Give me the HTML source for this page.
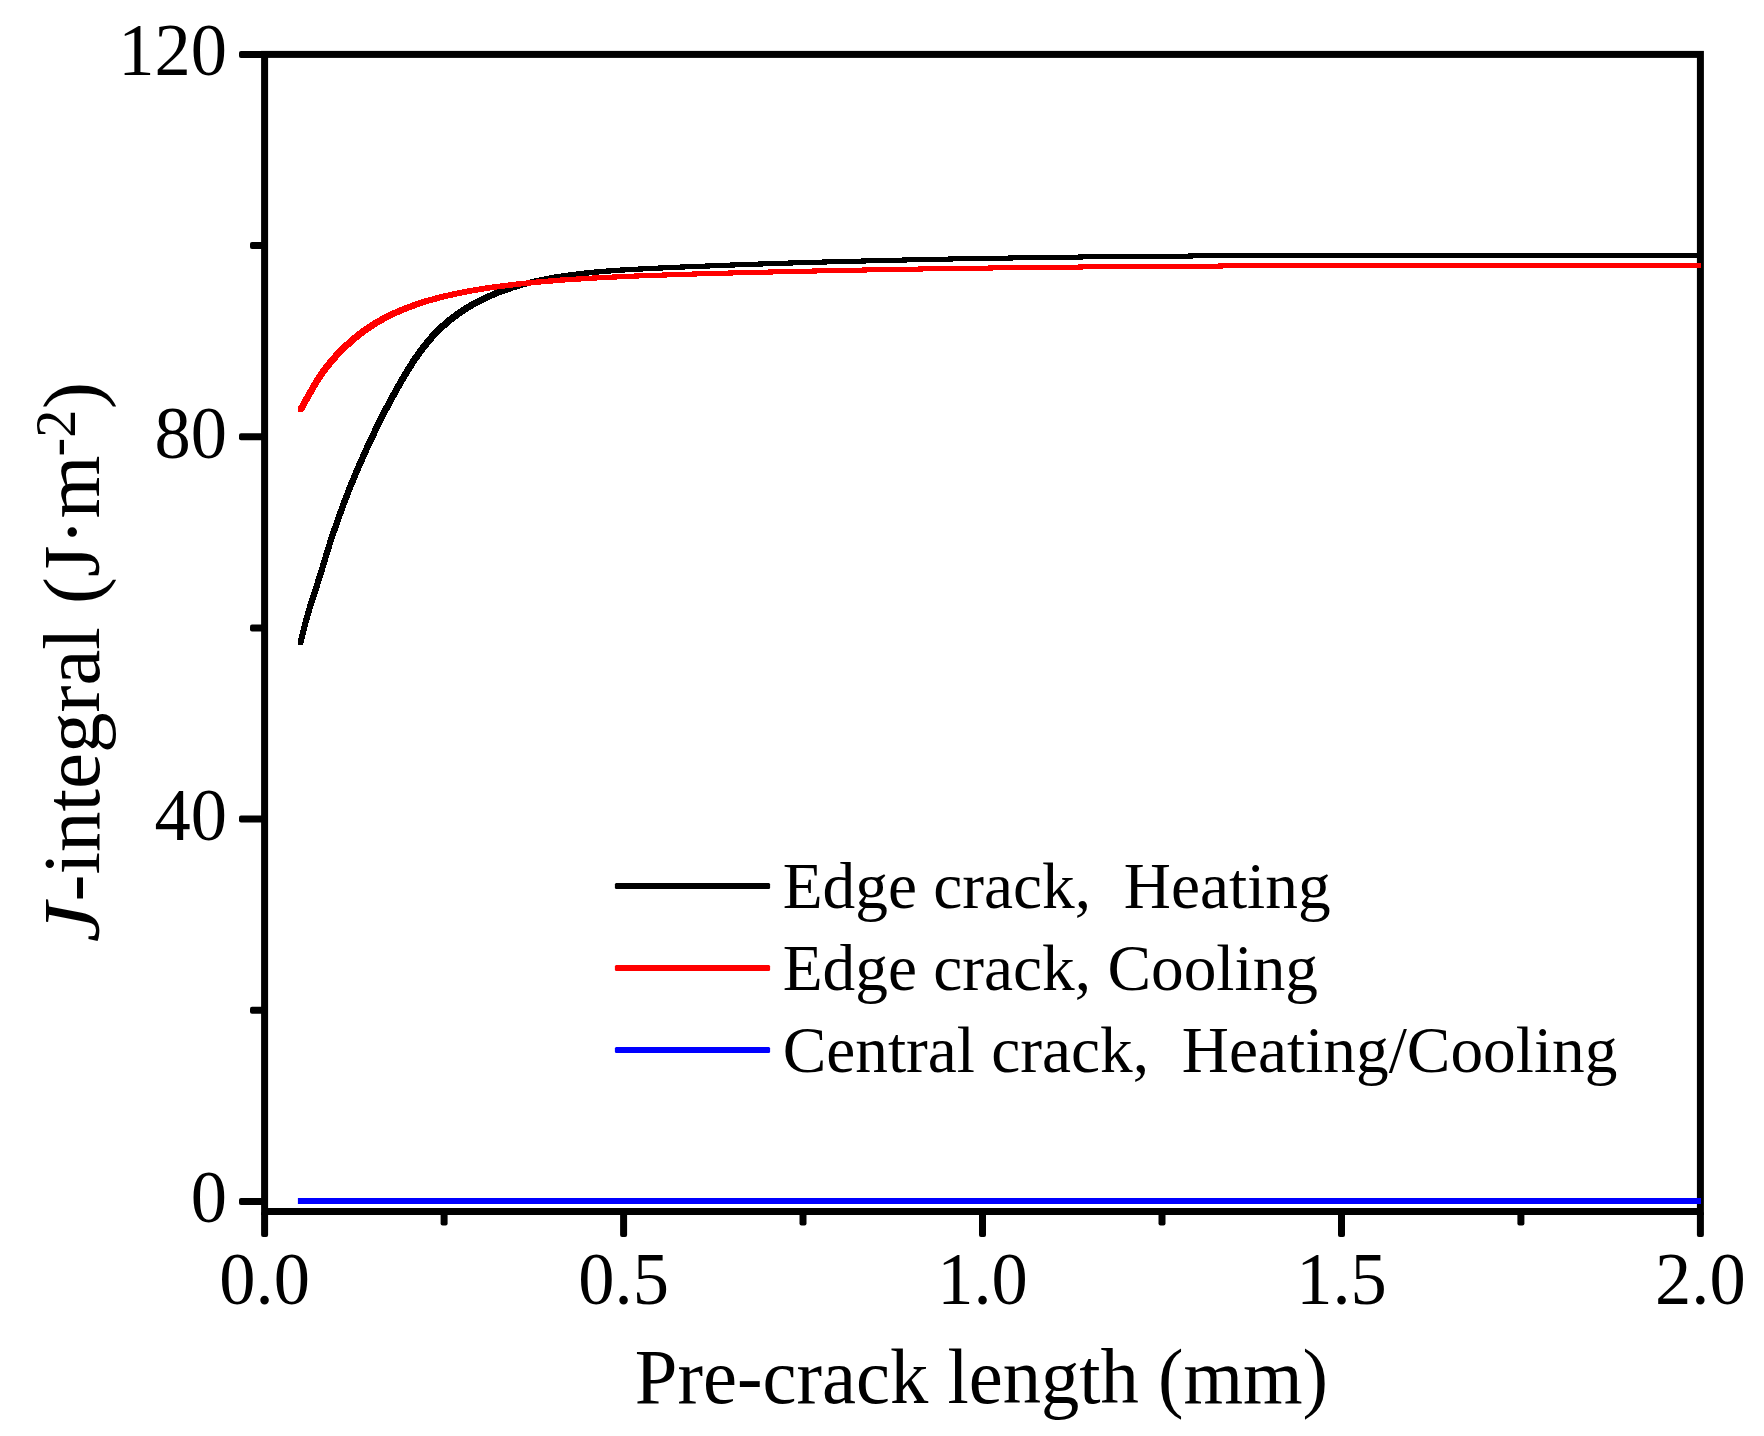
<!DOCTYPE html>
<html lang="en"><head><meta charset="utf-8"><title>J-integral vs pre-crack length</title>
<style>html,body{margin:0;padding:0;background:#fff}body{width:1764px;height:1436px;overflow:hidden}svg{display:block}text{font-family:"Liberation Serif","Times New Roman",Times,serif;fill:#000;white-space:pre;font-kerning:none;font-variant-ligatures:none}</style></head><body>
<svg width="1764" height="1436" viewBox="0 0 1764 1436">
<rect x="0" y="0" width="1764" height="1436" fill="#fff"/>
<g fill="#000">
<rect x="239" y="1198.0" width="25.6" height="7" rx="2"/>
<rect x="239" y="815.6" width="25.6" height="7" rx="2"/>
<rect x="239" y="433.3" width="25.6" height="7" rx="2"/>
<rect x="239" y="50.9" width="25.6" height="7" rx="2"/>
<rect x="250" y="1006.8" width="14.6" height="7" rx="2"/>
<rect x="250" y="624.5" width="14.6" height="7" rx="2"/>
<rect x="250" y="242.1" width="14.6" height="7" rx="2"/>
<rect x="261.1" y="1211.5" width="7" height="25.5" rx="2"/>
<rect x="620.1" y="1211.5" width="7" height="25.5" rx="2"/>
<rect x="979.0" y="1211.5" width="7" height="25.5" rx="2"/>
<rect x="1338.0" y="1211.5" width="7" height="25.5" rx="2"/>
<rect x="1696.9" y="1211.5" width="7" height="25.5" rx="2"/>
<rect x="440.6" y="1211.5" width="7" height="14.0" rx="2"/>
<rect x="799.5" y="1211.5" width="7" height="14.0" rx="2"/>
<rect x="1158.5" y="1211.5" width="7" height="14.0" rx="2"/>
<rect x="1517.4" y="1211.5" width="7" height="14.0" rx="2"/>
</g>
<rect x="264.6" y="54.4" width="1435.8" height="1157.1" fill="none" stroke="#000" stroke-width="7" stroke-linejoin="miter"/>
<path d="M297.9 644.9 297.9 639.9 299.5 633.9 301.5 625.9 303.5 618.2 305.5 611.2 307.5 604.5 309.5 598.2 311.5 591.9 313.5 585.8 315.5 579.5 317.5 573.1 319.5 566.6 321.5 559.9 323.5 553.3 325.5 546.7 327.5 540.4 329.5 534.3 331.5 528.4 333.5 522.7 335.5 517.0 337.5 511.5 339.5 505.9 341.5 500.5 343.5 495.2 345.5 490.0 347.5 485.0 349.5 480.0 351.5 475.2 353.5 470.4 355.5 465.7 357.5 461.1 359.5 456.6 361.5 452.1 363.5 447.7 365.5 443.3 367.5 439.0 369.5 434.7 371.5 430.6 373.5 426.4 375.5 422.3 377.5 418.3 379.5 414.3 381.5 410.4 383.5 406.5 385.5 402.7 387.5 399.0 389.5 395.2 391.5 391.6 393.5 387.9 395.5 384.4 397.5 380.8 399.5 377.4 401.5 374.0 403.5 370.6 405.5 367.3 407.5 364.1 409.5 361.0 411.5 358.0 413.5 355.0 415.5 352.2 417.5 349.4 419.5 346.7 421.5 344.1 423.5 341.6 425.5 339.1 427.5 336.8 429.5 334.5 431.5 332.4 433.5 330.3 435.5 328.2 437.5 326.3 439.5 324.4 441.5 322.6 443.5 320.8 445.5 319.1 447.5 317.4 449.5 315.9 451.5 314.3 453.5 312.8 455.5 311.4 457.5 310.0 459.5 308.6 461.5 307.3 463.5 306.0 465.5 304.8 467.5 303.6 469.5 302.4 471.5 301.3 473.5 300.2 475.5 299.2 477.5 298.1 479.5 297.1 481.5 296.2 483.5 295.2 485.5 294.3 487.5 293.4 489.5 292.6 491.5 291.7 493.5 290.9 495.5 290.1 497.5 289.4 499.5 288.6 501.5 287.9 503.5 287.2 505.5 286.5 507.5 285.8 509.5 285.2 511.5 284.5 513.5 283.9 515.5 283.3 517.5 282.7 519.5 282.2 521.5 281.6 523.5 281.1 525.5 280.6 527.5 280.1 529.5 279.6 531.5 279.1 533.5 278.6 535.5 278.2 537.5 277.8 539.5 277.3 541.5 276.9 543.5 276.5 545.5 276.1 547.5 275.7 549.5 275.4 551.5 275.0 553.5 274.7 555.5 274.3 557.5 274.0 559.5 273.7 561.5 273.4 563.5 273.1 565.5 272.8 567.5 272.5 569.5 272.3 571.5 272.0 573.5 271.7 575.5 271.5 577.5 271.3 579.5 271.0 581.5 270.8 583.5 270.6 585.5 270.4 587.5 270.2 589.5 270.0 591.5 269.8 593.5 269.6 595.5 269.4 597.5 269.2 599.5 269.1 601.5 268.9 603.5 268.7 605.5 268.6 607.5 268.4 609.5 268.3 611.5 268.1 613.5 268.0 615.5 267.8 617.5 267.7 619.5 267.6 621.5 267.4 623.5 267.3 625.5 267.2 627.5 267.1 629.5 266.9 631.5 266.8 633.5 266.7 635.5 266.6 637.5 266.5 639.5 266.4 641.5 266.3 643.5 266.2 645.5 266.1 647.5 266.0 649.5 265.9 651.5 265.8 653.5 265.7 655.5 265.6 657.5 265.5 659.5 265.4 661.5 265.3 663.5 265.2 665.5 265.1 667.5 265.0 669.5 265.0 671.5 264.9 673.5 264.8 675.5 264.7 677.5 264.6 679.5 264.5 681.5 264.4 683.5 264.4 685.5 264.3 687.5 264.2 689.5 264.1 691.5 264.0 693.5 263.9 695.5 263.9 697.5 263.8 707.5 263.4 717.5 263.0 727.5 262.6 737.5 262.2 747.5 261.9 757.5 261.5 767.5 261.2 777.5 260.9 787.5 260.5 797.5 260.2 807.5 259.9 817.5 259.6 827.5 259.4 837.5 259.1 847.5 258.8 857.5 258.6 867.5 258.3 877.5 258.1 887.5 257.8 897.5 257.6 907.5 257.4 917.5 257.2 927.5 256.9 937.5 256.7 947.5 256.5 957.5 256.4 967.5 256.2 977.5 256.0 987.5 255.8 997.5 255.7 1007.5 255.5 1017.5 255.3 1027.5 255.2 1037.5 255.1 1047.5 254.9 1057.5 254.8 1067.5 254.7 1077.5 254.5 1087.5 254.4 1097.5 254.3 1107.5 254.2 1117.5 254.1 1127.5 254.0 1137.5 253.9 1147.5 253.8 1157.5 253.7 1167.5 253.6 1177.5 253.5 1187.5 253.5 1197.5 253.4 1207.5 253.3 1217.5 253.3 1227.5 253.2 1237.5 253.1 1247.5 253.1 1257.5 253.0 1267.5 253.0 1277.5 252.9 1287.5 252.9 1297.5 252.9 1307.5 252.8 1317.5 252.8 1327.5 252.8 1337.5 252.7 1347.5 252.7 1357.5 252.7 1367.5 252.7 1377.5 252.6 1387.5 252.6 1397.5 252.6 1407.5 252.6 1417.5 252.6 1427.5 252.6 1437.5 252.6 1447.5 252.6 1457.5 252.6 1467.5 252.6 1477.5 252.6 1487.5 252.6 1497.5 252.6 1507.5 252.6 1517.5 252.6 1527.5 252.6 1537.5 252.6 1547.5 252.6 1557.5 252.6 1567.5 252.6 1577.5 252.6 1587.5 252.6 1597.5 252.6 1607.5 252.6 1617.5 252.6 1627.5 252.6 1637.5 252.6 1647.5 252.6 1657.5 252.6 1667.5 252.6 1677.5 252.6 1687.5 252.6 1696.0 252.6 1696.0 252.6 1701.0 252.6 1701.0 257.6 1701.0 257.6 1692.5 257.6 1682.5 257.6 1672.5 257.6 1662.5 257.6 1652.5 257.6 1642.5 257.6 1632.5 257.6 1622.5 257.6 1612.5 257.6 1602.5 257.6 1592.5 257.6 1582.5 257.6 1572.5 257.6 1562.5 257.6 1552.5 257.6 1542.5 257.6 1532.5 257.6 1522.5 257.6 1512.5 257.6 1502.5 257.6 1492.5 257.6 1482.5 257.6 1472.5 257.6 1462.5 257.6 1452.5 257.6 1442.5 257.6 1432.5 257.6 1422.5 257.6 1412.5 257.6 1402.5 257.6 1392.5 257.6 1382.5 257.6 1372.5 257.7 1362.5 257.7 1352.5 257.7 1342.5 257.7 1332.5 257.8 1322.5 257.8 1312.5 257.8 1302.5 257.9 1292.5 257.9 1282.5 257.9 1272.5 258.0 1262.5 258.0 1252.5 258.1 1242.5 258.1 1232.5 258.2 1222.5 258.3 1212.5 258.3 1202.5 258.4 1192.5 258.5 1182.5 258.5 1172.5 258.6 1162.5 258.7 1152.5 258.8 1142.5 258.9 1132.5 259.0 1122.5 259.1 1112.5 259.2 1102.5 259.3 1092.5 259.4 1082.5 259.5 1072.5 259.7 1062.5 259.8 1052.5 259.9 1042.5 260.1 1032.5 260.2 1022.5 260.3 1012.5 260.5 1002.5 260.7 992.5 260.8 982.5 261.0 972.5 261.2 962.5 261.4 952.5 261.5 942.5 261.7 932.5 261.9 922.5 262.2 912.5 262.4 902.5 262.6 892.5 262.8 882.5 263.1 872.5 263.3 862.5 263.6 852.5 263.8 842.5 264.1 832.5 264.4 822.5 264.6 812.5 264.9 802.5 265.2 792.5 265.5 782.5 265.9 772.5 266.2 762.5 266.5 752.5 266.9 742.5 267.2 732.5 267.6 722.5 268.0 712.5 268.4 702.5 268.8 700.5 268.9 698.5 268.9 696.5 269.0 694.5 269.1 692.5 269.2 690.5 269.3 688.5 269.4 686.5 269.4 684.5 269.5 682.5 269.6 680.5 269.7 678.5 269.8 676.5 269.9 674.5 270.0 672.5 270.0 670.5 270.1 668.5 270.2 666.5 270.3 664.5 270.4 662.5 270.5 660.5 270.6 658.5 270.7 656.5 270.8 654.5 270.9 652.5 271.0 650.5 271.1 648.5 271.2 646.5 271.3 644.5 271.4 642.5 271.5 640.5 271.6 638.5 271.7 636.5 271.8 634.5 271.9 632.5 272.1 630.5 272.2 628.5 272.3 626.5 272.4 624.5 272.6 622.5 272.7 620.5 272.8 618.5 273.0 616.5 273.1 614.5 273.3 612.5 273.4 610.5 273.6 608.5 273.7 606.5 273.9 604.5 274.1 602.5 274.2 600.5 274.4 598.5 274.6 596.5 274.8 594.5 275.0 592.5 275.2 590.5 275.4 588.5 275.6 586.5 275.8 584.5 276.0 582.5 276.3 580.5 276.5 578.5 276.7 576.5 277.0 574.5 277.3 572.5 277.5 570.5 277.8 568.5 278.1 566.5 278.4 564.5 278.7 562.5 279.0 560.5 279.3 558.5 279.7 556.5 280.0 554.5 280.4 552.5 280.7 550.5 281.1 548.5 281.5 546.5 281.9 544.5 282.3 542.5 282.8 540.5 283.2 538.5 283.6 536.5 284.1 534.5 284.6 532.5 285.1 530.5 285.6 528.5 286.1 526.5 286.6 524.5 287.2 522.5 287.7 520.5 288.3 518.5 288.9 516.5 289.5 514.5 290.2 512.5 290.8 510.5 291.5 508.5 292.2 506.5 292.9 504.5 293.6 502.5 294.4 500.5 295.1 498.5 295.9 496.5 296.7 494.5 297.6 492.5 298.4 490.5 299.3 488.5 300.2 486.5 301.2 484.5 302.1 482.5 303.1 480.5 304.2 478.5 305.2 476.5 306.3 474.5 307.4 472.5 308.6 470.5 309.8 468.5 311.0 466.5 312.3 464.5 313.6 462.5 315.0 460.5 316.4 458.5 317.8 456.5 319.3 454.5 320.9 452.5 322.4 450.5 324.1 448.5 325.8 446.5 327.6 444.5 329.4 442.5 331.3 440.5 333.2 438.5 335.3 436.5 337.4 434.5 339.5 432.5 341.8 430.5 344.1 428.5 346.6 426.5 349.1 424.5 351.7 422.5 354.4 420.5 357.2 418.5 360.0 416.5 363.0 414.5 366.0 412.5 369.1 410.5 372.3 408.5 375.6 406.5 379.0 404.5 382.4 402.5 385.8 400.5 389.4 398.5 392.9 396.5 396.6 394.5 400.2 392.5 404.0 390.5 407.7 388.5 411.5 386.5 415.4 384.5 419.3 382.5 423.3 380.5 427.3 378.5 431.4 376.5 435.6 374.5 439.7 372.5 444.0 370.5 448.3 368.5 452.7 366.5 457.1 364.5 461.6 362.5 466.1 360.5 470.7 358.5 475.4 356.5 480.2 354.5 485.0 352.5 490.0 350.5 495.0 348.5 500.2 346.5 505.5 344.5 510.9 342.5 516.5 340.5 522.0 338.5 527.7 336.5 533.4 334.5 539.3 332.5 545.4 330.5 551.7 328.5 558.3 326.5 564.9 324.5 571.6 322.5 578.1 320.5 584.5 318.5 590.8 316.5 596.9 314.5 603.2 312.5 609.5 310.5 616.2 308.5 623.2 306.5 630.9 304.5 638.9 302.9 644.9Z" fill="#000" shape-rendering="crispEdges"/>
<path d="M297.9 411.9 297.9 406.9 299.5 404.6 301.5 401.1 303.5 397.5 305.5 393.8 307.5 390.3 309.5 386.8 311.5 383.4 313.5 380.1 315.5 376.9 317.5 373.8 319.5 370.9 321.5 368.1 323.5 365.4 325.5 362.9 327.5 360.4 329.5 358.0 331.5 355.7 333.5 353.5 335.5 351.4 337.5 349.3 339.5 347.3 341.5 345.3 343.5 343.4 345.5 341.6 347.5 339.8 349.5 338.0 351.5 336.3 353.5 334.6 355.5 333.0 357.5 331.5 359.5 330.0 361.5 328.5 363.5 327.1 365.5 325.7 367.5 324.3 369.5 323.0 371.5 321.8 373.5 320.5 375.5 319.3 377.5 318.2 379.5 317.0 381.5 315.9 383.5 314.9 385.5 313.8 387.5 312.8 389.5 311.8 391.5 310.9 393.5 310.0 395.5 309.1 397.5 308.2 399.5 307.4 401.5 306.6 403.5 305.8 405.5 305.0 407.5 304.2 409.5 303.5 411.5 302.8 413.5 302.1 415.5 301.4 417.5 300.7 419.5 300.1 421.5 299.4 423.5 298.8 425.5 298.2 427.5 297.6 429.5 297.1 431.5 296.5 433.5 296.0 435.5 295.4 437.5 294.9 439.5 294.4 441.5 293.9 443.5 293.4 445.5 293.0 447.5 292.5 449.5 292.1 451.5 291.6 453.5 291.2 455.5 290.8 457.5 290.3 459.5 289.9 461.5 289.6 463.5 289.2 465.5 288.8 467.5 288.4 469.5 288.1 471.5 287.7 473.5 287.4 475.5 287.0 477.5 286.7 479.5 286.4 481.5 286.0 483.5 285.7 485.5 285.4 487.5 285.1 489.5 284.8 491.5 284.5 493.5 284.3 495.5 284.0 497.5 283.7 499.5 283.5 501.5 283.2 503.5 282.9 505.5 282.7 507.5 282.5 509.5 282.2 511.5 282.0 513.5 281.8 515.5 281.5 517.5 281.3 519.5 281.1 521.5 280.9 523.5 280.7 525.5 280.5 527.5 280.3 529.5 280.1 531.5 279.9 533.5 279.7 535.5 279.5 537.5 279.3 539.5 279.2 541.5 279.0 543.5 278.8 545.5 278.6 547.5 278.5 549.5 278.3 551.5 278.2 553.5 278.0 555.5 277.9 557.5 277.7 559.5 277.6 561.5 277.4 563.5 277.3 565.5 277.1 567.5 277.0 569.5 276.9 571.5 276.7 573.5 276.6 575.5 276.5 577.5 276.3 579.5 276.2 581.5 276.1 583.5 276.0 585.5 275.9 587.5 275.8 589.5 275.6 591.5 275.5 593.5 275.4 595.5 275.3 597.5 275.2 599.5 275.1 601.5 275.0 603.5 274.9 605.5 274.8 607.5 274.7 609.5 274.6 611.5 274.5 613.5 274.4 615.5 274.3 617.5 274.2 619.5 274.1 621.5 274.0 623.5 274.0 625.5 273.9 627.5 273.8 629.5 273.7 631.5 273.6 633.5 273.5 635.5 273.4 637.5 273.4 639.5 273.3 641.5 273.2 643.5 273.1 645.5 273.1 647.5 273.0 649.5 272.9 651.5 272.8 653.5 272.8 655.5 272.7 657.5 272.6 659.5 272.5 661.5 272.5 663.5 272.4 665.5 272.3 667.5 272.3 669.5 272.2 671.5 272.1 673.5 272.1 675.5 272.0 677.5 271.9 679.5 271.9 681.5 271.8 683.5 271.8 685.5 271.7 687.5 271.6 689.5 271.6 691.5 271.5 693.5 271.4 695.5 271.4 697.5 271.3 707.5 271.0 717.5 270.8 727.5 270.5 737.5 270.2 747.5 270.0 757.5 269.7 767.5 269.5 777.5 269.3 787.5 269.0 797.5 268.8 807.5 268.6 817.5 268.4 827.5 268.2 837.5 268.0 847.5 267.8 857.5 267.6 867.5 267.4 877.5 267.2 887.5 267.0 897.5 266.9 907.5 266.7 917.5 266.5 927.5 266.4 937.5 266.2 947.5 266.1 957.5 265.9 967.5 265.8 977.5 265.7 987.5 265.5 997.5 265.4 1007.5 265.3 1017.5 265.2 1027.5 265.0 1037.5 264.9 1047.5 264.8 1057.5 264.7 1067.5 264.6 1077.5 264.5 1087.5 264.4 1097.5 264.3 1107.5 264.2 1117.5 264.2 1127.5 264.1 1137.5 264.0 1147.5 263.9 1157.5 263.8 1167.5 263.8 1177.5 263.7 1187.5 263.6 1197.5 263.6 1207.5 263.5 1217.5 263.5 1227.5 263.4 1237.5 263.3 1247.5 263.3 1257.5 263.3 1267.5 263.2 1277.5 263.2 1287.5 263.1 1297.5 263.1 1307.5 263.0 1317.5 263.0 1327.5 263.0 1337.5 263.0 1347.5 262.9 1357.5 262.9 1367.5 262.9 1377.5 262.9 1387.5 262.8 1397.5 262.8 1407.5 262.8 1417.5 262.8 1427.5 262.8 1437.5 262.8 1447.5 262.8 1457.5 262.8 1467.5 262.8 1477.5 262.7 1487.5 262.7 1497.5 262.7 1507.5 262.7 1517.5 262.7 1527.5 262.7 1537.5 262.7 1547.5 262.7 1557.5 262.7 1567.5 262.7 1577.5 262.7 1587.5 262.7 1597.5 262.7 1607.5 262.7 1617.5 262.7 1627.5 262.7 1637.5 262.7 1647.5 262.7 1657.5 262.7 1667.5 262.7 1677.5 262.7 1687.5 262.7 1696.0 262.7 1696.0 262.7 1701.0 262.7 1701.0 267.7 1701.0 267.7 1692.5 267.7 1682.5 267.7 1672.5 267.7 1662.5 267.7 1652.5 267.7 1642.5 267.7 1632.5 267.7 1622.5 267.7 1612.5 267.7 1602.5 267.7 1592.5 267.7 1582.5 267.7 1572.5 267.7 1562.5 267.7 1552.5 267.7 1542.5 267.7 1532.5 267.7 1522.5 267.7 1512.5 267.7 1502.5 267.7 1492.5 267.7 1482.5 267.7 1472.5 267.8 1462.5 267.8 1452.5 267.8 1442.5 267.8 1432.5 267.8 1422.5 267.8 1412.5 267.8 1402.5 267.8 1392.5 267.8 1382.5 267.9 1372.5 267.9 1362.5 267.9 1352.5 267.9 1342.5 268.0 1332.5 268.0 1322.5 268.0 1312.5 268.0 1302.5 268.1 1292.5 268.1 1282.5 268.2 1272.5 268.2 1262.5 268.3 1252.5 268.3 1242.5 268.3 1232.5 268.4 1222.5 268.5 1212.5 268.5 1202.5 268.6 1192.5 268.6 1182.5 268.7 1172.5 268.8 1162.5 268.8 1152.5 268.9 1142.5 269.0 1132.5 269.1 1122.5 269.2 1112.5 269.2 1102.5 269.3 1092.5 269.4 1082.5 269.5 1072.5 269.6 1062.5 269.7 1052.5 269.8 1042.5 269.9 1032.5 270.0 1022.5 270.2 1012.5 270.3 1002.5 270.4 992.5 270.5 982.5 270.7 972.5 270.8 962.5 270.9 952.5 271.1 942.5 271.2 932.5 271.4 922.5 271.5 912.5 271.7 902.5 271.9 892.5 272.0 882.5 272.2 872.5 272.4 862.5 272.6 852.5 272.8 842.5 273.0 832.5 273.2 822.5 273.4 812.5 273.6 802.5 273.8 792.5 274.0 782.5 274.3 772.5 274.5 762.5 274.7 752.5 275.0 742.5 275.2 732.5 275.5 722.5 275.8 712.5 276.0 702.5 276.3 700.5 276.4 698.5 276.4 696.5 276.5 694.5 276.6 692.5 276.6 690.5 276.7 688.5 276.8 686.5 276.8 684.5 276.9 682.5 276.9 680.5 277.0 678.5 277.1 676.5 277.1 674.5 277.2 672.5 277.3 670.5 277.3 668.5 277.4 666.5 277.5 664.5 277.5 662.5 277.6 660.5 277.7 658.5 277.8 656.5 277.8 654.5 277.9 652.5 278.0 650.5 278.1 648.5 278.1 646.5 278.2 644.5 278.3 642.5 278.4 640.5 278.4 638.5 278.5 636.5 278.6 634.5 278.7 632.5 278.8 630.5 278.9 628.5 279.0 626.5 279.0 624.5 279.1 622.5 279.2 620.5 279.3 618.5 279.4 616.5 279.5 614.5 279.6 612.5 279.7 610.5 279.8 608.5 279.9 606.5 280.0 604.5 280.1 602.5 280.2 600.5 280.3 598.5 280.4 596.5 280.5 594.5 280.6 592.5 280.8 590.5 280.9 588.5 281.0 586.5 281.1 584.5 281.2 582.5 281.3 580.5 281.5 578.5 281.6 576.5 281.7 574.5 281.9 572.5 282.0 570.5 282.1 568.5 282.3 566.5 282.4 564.5 282.6 562.5 282.7 560.5 282.9 558.5 283.0 556.5 283.2 554.5 283.3 552.5 283.5 550.5 283.6 548.5 283.8 546.5 284.0 544.5 284.2 542.5 284.3 540.5 284.5 538.5 284.7 536.5 284.9 534.5 285.1 532.5 285.3 530.5 285.5 528.5 285.7 526.5 285.9 524.5 286.1 522.5 286.3 520.5 286.5 518.5 286.8 516.5 287.0 514.5 287.2 512.5 287.5 510.5 287.7 508.5 287.9 506.5 288.2 504.5 288.5 502.5 288.7 500.5 289.0 498.5 289.3 496.5 289.5 494.5 289.8 492.5 290.1 490.5 290.4 488.5 290.7 486.5 291.0 484.5 291.4 482.5 291.7 480.5 292.0 478.5 292.4 476.5 292.7 474.5 293.1 472.5 293.4 470.5 293.8 468.5 294.2 466.5 294.6 464.5 294.9 462.5 295.3 460.5 295.8 458.5 296.2 456.5 296.6 454.5 297.1 452.5 297.5 450.5 298.0 448.5 298.4 446.5 298.9 444.5 299.4 442.5 299.9 440.5 300.4 438.5 301.0 436.5 301.5 434.5 302.1 432.5 302.6 430.5 303.2 428.5 303.8 426.5 304.4 424.5 305.1 422.5 305.7 420.5 306.4 418.5 307.1 416.5 307.8 414.5 308.5 412.5 309.2 410.5 310.0 408.5 310.8 406.5 311.6 404.5 312.4 402.5 313.2 400.5 314.1 398.5 315.0 396.5 315.9 394.5 316.8 392.5 317.8 390.5 318.8 388.5 319.9 386.5 320.9 384.5 322.0 382.5 323.2 380.5 324.3 378.5 325.5 376.5 326.8 374.5 328.0 372.5 329.3 370.5 330.7 368.5 332.1 366.5 333.5 364.5 335.0 362.5 336.5 360.5 338.0 358.5 339.6 356.5 341.3 354.5 343.0 352.5 344.8 350.5 346.6 348.5 348.4 346.5 350.3 344.5 352.3 342.5 354.3 340.5 356.4 338.5 358.5 336.5 360.7 334.5 363.0 332.5 365.4 330.5 367.9 328.5 370.4 326.5 373.1 324.5 375.9 322.5 378.8 320.5 381.9 318.5 385.1 316.5 388.4 314.5 391.8 312.5 395.3 310.5 398.8 308.5 402.5 306.5 406.1 304.5 409.6 302.9 411.9Z" fill="#f00" shape-rendering="crispEdges"/>
<rect x="297.9" y="1198" width="1403.1" height="6" fill="#00f"/>
<g font-size="72.5" text-anchor="end">
<text transform="translate(227.0 1222.4) scale(1 1.02)">0</text>
<text transform="translate(227.0 840.0) scale(1 1.02)">40</text>
<text transform="translate(227.0 457.7) scale(1 1.02)">80</text>
<text transform="translate(227.0 75.3) scale(1 1.02)">120</text>
</g>
<g font-size="72.5" text-anchor="middle">
<text transform="translate(264.6 1303.6) scale(1 1.02)">0.0</text>
<text transform="translate(623.6 1303.6) scale(1 1.02)">0.5</text>
<text transform="translate(982.5 1303.6) scale(1 1.02)">1.0</text>
<text transform="translate(1341.5 1303.6) scale(1 1.02)">1.5</text>
<text transform="translate(1700.4 1303.6) scale(1 1.02)">2.0</text>
</g>
<text transform="translate(981.5 1402.7) scale(1 1.02)" font-size="76.6" text-anchor="middle">Pre-crack length (mm)</text>
<text transform="translate(98.5 942.3) rotate(-90) scale(1.1 1)" font-size="81" font-style="italic">J</text>
<text transform="translate(98.5 901.5) rotate(-90) scale(1 1)" font-size="81">-integral </text>
<text transform="translate(98.5 604.0) rotate(-90) scale(1 1)" font-size="81">(J·m</text>
<text transform="translate(74.8 456.5) rotate(-90) scale(1 1)" font-size="56">-2</text>
<text transform="translate(98.5 409.0) rotate(-90) scale(1 1)" font-size="81">)</text>
<rect x="614.9" y="882.9" width="155.2" height="6" rx="1.5" fill="#000"/>
<text x="782.7" y="908.0" font-size="65.35" xml:space="preserve">Edge crack,  Heating</text>
<rect x="614.9" y="965.0" width="155.2" height="6" rx="1.5" fill="#f00"/>
<text x="782.7" y="990.1" font-size="65.35" xml:space="preserve">Edge crack, Cooling</text>
<rect x="614.9" y="1047.1" width="155.2" height="6" rx="1.5" fill="#00f"/>
<text x="782.7" y="1072.4" font-size="65.35" xml:space="preserve">Central crack,  Heating/Cooling</text>
</svg></body></html>
